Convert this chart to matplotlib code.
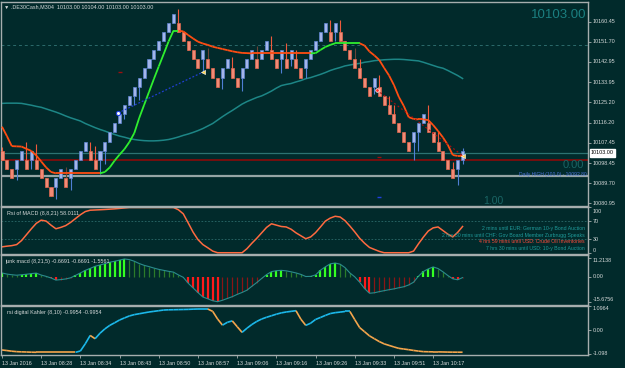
import matplotlib
matplotlib.use('Agg')
import matplotlib.pyplot as plt
from matplotlib.transforms import blended_transform_factory as btf
from matplotlib.collections import LineCollection
import numpy as np

plt.rcParams['font.family'] = ['Liberation Sans', 'DejaVu Sans']

# ---------------- data ----------------
opens = [10104, 10100, 10096, 10096, 10100, 10100, 10100, 10100, 10096, 10092,
         10088, 10088, 10092, 10092, 10092, 10096, 10100, 10104, 10104, 10100,
         10100, 10104, 10108, 10112, 10116, 10120, 10124, 10128, 10132, 10136,
         10140, 10144, 10148, 10152, 10156, 10160, 10160, 10156, 10152, 10148,
         10144, 10144, 10144, 10140, 10136, 10136, 10140, 10140, 10136, 10136,
         10140, 10144, 10144, 10144, 10148, 10148, 10144, 10144, 10144, 10144,
         10144, 10140, 10140, 10144, 10148, 10152, 10156, 10156, 10156, 10156,
         10152, 10148, 10144, 10140, 10136, 10132, 10132, 10132, 10128, 10124,
         10120, 10116, 10112, 10108, 10108, 10112, 10116, 10116, 10112, 10108,
         10104, 10100, 10096, 10096, 10100]
closes = [10100, 10096, 10092, 10100, 10104, 10096, 10104, 10096, 10092, 10088,
          10084, 10092, 10096, 10088, 10096, 10100, 10104, 10108, 10100, 10096,
          10104, 10108, 10112, 10116, 10120, 10124, 10128, 10132, 10136, 10140,
          10144, 10148, 10152, 10156, 10160, 10164, 10156, 10152, 10148, 10144,
          10140, 10148, 10140, 10136, 10132, 10140, 10144, 10136, 10132, 10140,
          10144, 10148, 10140, 10148, 10152, 10144, 10140, 10148, 10140, 10148,
          10140, 10136, 10144, 10148, 10152, 10156, 10160, 10152, 10160, 10152,
          10148, 10144, 10140, 10136, 10132, 10128, 10136, 10128, 10124, 10120,
          10116, 10112, 10108, 10104, 10112, 10116, 10120, 10112, 10108, 10104,
          10100, 10096, 10092, 10100, 10104]
highs = [10105.5, 10100, 10096, 10100, 10104, 10107.7, 10104, 10107, 10096, 10092,
         10088, 10092, 10096, 10097, 10096, 10100, 10104, 10108, 10108, 10106,
         10104, 10108, 10112, 10116, 10120, 10124, 10128, 10132, 10136, 10140,
         10144, 10148, 10152, 10156, 10160, 10164, 10166, 10156, 10152, 10148,
         10144, 10148, 10149, 10140, 10136, 10140, 10144, 10145, 10136, 10140,
         10144, 10148, 10150, 10148, 10152, 10154, 10144, 10148, 10151, 10148,
         10148, 10140, 10144, 10148, 10152, 10156, 10160, 10161, 10160, 10161,
         10152, 10148, 10149, 10144, 10136, 10132, 10136, 10137, 10128, 10128,
         10124, 10116, 10112, 10108, 10112, 10116, 10120, 10124, 10112, 10112,
         10104, 10100, 10099, 10100, 10105]
lows = [10100, 10096, 10092, 10091, 10100, 10096, 10096, 10096, 10092, 10088,
        10084, 10083, 10092, 10088, 10087, 10096, 10100, 10104, 10100, 10096,
        10094, 10098, 10108, 10112, 10116, 10118, 10124, 10124, 10126, 10136,
        10140, 10144, 10148, 10152, 10156, 10160, 10156, 10152, 10148, 10144,
        10140, 10139, 10140, 10136, 10132, 10131, 10140, 10136, 10132, 10130,
        10140, 10144, 10140, 10144, 10148, 10144, 10140, 10138, 10140, 10141,
        10140, 10136, 10136, 10144, 10148, 10152, 10156, 10152, 10152, 10152,
        10148, 10144, 10140, 10136, 10132, 10128, 10129, 10128, 10124, 10120,
        10116, 10112, 10108, 10104, 10100, 10104, 10116, 10112, 10108, 10104,
        10100, 10096, 10092, 10089, 10098]
dark_wicks = [13, 42, 52, 72]

trend = [10114.5, 10110.4, 10106.0, 10105.9, 10105.8, 10104.8, 10103.9, 10101.9, 10099.3, 10096.7,
         10094.7, 10094.1, 10094.1, 10094.1, 10094.1, 10094.1, 10094.1, 10094.1, 10094.1, 10094.1,
         10094.1, 10094.7, 10096.7, 10099.7, 10102.3, 10104.7, 10107.8, 10111.7, 10118.3, 10124.0,
         10129.7, 10135.4, 10140.9, 10146.3, 10151.8, 10156.5, 10156.5, 10156.2, 10154.6, 10153.1,
         10151.7, 10150.9, 10150.3, 10149.5, 10149.0, 10148.5, 10148.0, 10147.5, 10147.1, 10146.8,
         10146.7, 10146.6, 10146.6, 10146.6, 10146.6, 10146.6, 10146.6, 10146.6, 10146.6, 10146.6,
         10146.6, 10146.6, 10146.6, 10146.6, 10146.7, 10148.1, 10149.4, 10150.3, 10151.0, 10151.0,
         10151.0, 10151.0, 10151.0, 10151.0, 10150.0, 10147.4, 10145.7, 10143.7, 10140.2, 10136.9,
         10132.7, 10127.5, 10123.6, 10118.7, 10117.9, 10117.7, 10117.7, 10117.4, 10115.2, 10112.6,
         10109.8, 10106.5, 10102.1, 10101.7, 10101.7]

slow_ma = [10124.7, 10124.8, 10124.8, 10124.8, 10124.7, 10124.3, 10123.9, 10123.4, 10123.0, 10122.3,
           10121.6, 10120.9, 10120.1, 10119.2, 10118.4, 10117.7, 10117.0, 10115.9, 10115.0, 10114.1,
           10113.3, 10112.6, 10111.8, 10111.1, 10110.4, 10109.9, 10109.3, 10108.9, 10108.6, 10108.4,
           10108.3, 10108.3, 10108.4, 10108.6, 10108.9, 10109.4, 10110.0, 10110.7, 10111.3, 10112.0,
           10112.8, 10113.7, 10114.8, 10115.9, 10117.4, 10118.9, 10120.3, 10121.6, 10123.0, 10124.4,
           10125.5, 10126.4, 10127.3, 10128.0, 10129.0, 10130.1, 10131.4, 10132.5, 10133.0, 10133.4,
           10134.1, 10134.7, 10135.5, 10136.0, 10136.7, 10137.4, 10138.2, 10139.1, 10139.8, 10140.4,
           10141.1, 10141.5, 10141.9, 10142.2, 10142.7, 10143.0, 10143.4, 10143.6, 10143.8, 10143.9,
           10144.0, 10144.0, 10143.9, 10143.7, 10143.5, 10143.3, 10142.7, 10142.0, 10141.3, 10140.6,
           10140.1, 10139.1, 10138.0, 10136.9, 10135.6]

rsi_macd = [13, 14.5, 15.7, 18, 27, 40, 53, 65, 72, 70,
            61, 53, 56, 60, 67, 75.5, 84, 91, 94, 94.5,
            95, 95.6, 96.3, 97, 98, 99, 100, 100, 100, 100,
            100, 100, 100, 100, 100, 100, 95, 86, 66, 45.5,
            29, 18, 11, 3.6, 0, 0, 0, 0, 0, 0,
            9, 21, 32, 44, 56, 64, 61, 58, 57, 52,
            44, 37.5, 31, 35, 44.5, 57, 70, 76.6, 80.6, 79,
            71, 59, 46, 32, 21, 11.7, 7.3, 3, 0, 0,
            0, 0, 0, 0, 3.6, 19.7, 34.5, 48, 55, 57,
            49, 41, 35, 45, 58]

junk_macd = [2.2, 1.5, 1.1, 0.8, 1.1, 1.4, 1.8, 2.1, 0.9, 0.1,
             -0.9, -2.2, -1.9, -1.5, -0.8, 0.7, 2.2, 3.8, 5.0, 6.3,
             7.1, 7.9, 8.8, 9.4, 10.1, 10.8, 10.4, 9.4, 8.0, 6.9,
             6.1, 5.2, 4.4, 3.8, 3.2, 2.7, 1.0, -0.5, -4.1, -7.0,
             -9.9, -12.6, -13.7, -14.9, -15.5, -14.6, -13.5, -12.4, -11.0, -9.8,
             -8.4, -6.0, -3.7, -1.2, 1.2, 3.0, 3.6, 3.8, 3.5, 2.9,
             2.2, 1.3, 0.0, 0.1, 1.0, 3.9, 6.0, 7.8, 8.3, 7.6,
             5.5, 2.2, -0.2, -3.5, -7.4, -10.3, -10.0, -9.3, -8.7, -8.1,
             -7.6, -6.9, -6.3, -5.2, -3.5, 0.2, 3.1, 4.7, 5.9, 4.9,
             2.9, 0.6, -1.4, -2.0, -0.67]

kahler = [-0.894, -0.92, -0.95, -0.97, -0.98, -0.986, -0.994, -1.0, -1.0, -1.0,
          -1.0, -1.0, -1.0, -1.0, -1.0, -1.0, -0.94, -0.61, -0.23, -0.38,
          -0.13, 0.07, 0.23, 0.35, 0.475, 0.57, 0.66, 0.72, 0.76, 0.80,
          0.84, 0.87, 0.90, 0.93, 0.94, 0.945, 0.95, 0.955, 0.96, 0.97,
          0.977, 0.977, 0.977, 0.87, 0.52, 0.24, 0.37, 0.435, 0.17, -0.09,
          0.10, 0.27, 0.41, 0.52, 0.60, 0.67, 0.74, 0.80, 0.84, 0.87,
          0.90, 0.51, 0.23, 0.33, 0.50, 0.59, 0.685, 0.77, 0.81, 0.835,
          0.865, 0.865, 0.49, 0.127, -0.06, -0.25, -0.38, -0.51, -0.615, -0.685,
          -0.755, -0.82, -0.85, -0.88, -0.915, -0.945, -0.97, -0.975, -0.98, -0.98,
          -0.985, -0.99, -0.993, -0.995, -0.9954]

price_ticks = [10160.45, 10151.70, 10142.95, 10133.95, 10125.20, 10116.20,
               10107.45, 10098.45, 10089.70, 10080.95]
time_labels = ['13 Jan 2016', '13 Jan 08:28', '13 Jan 08:34', '13 Jan 08:43',
               '13 Jan 08:50', '13 Jan 08:57', '13 Jan 09:06', '13 Jan 09:16',
               '13 Jan 09:26', '13 Jan 09:33', '13 Jan 09:51', '13 Jan 10:17']
time_label_bars = [0, 8, 16, 24, 32, 40, 48, 56, 64, 72, 80, 88]

last_price = 10103.00
daily_high = 10092.80
red_level = 10099.8
dash_level = 10150.3
blue_line_x = [23.7, 41.0]
blue_line_y = [10120.5, 10138.4]
red_line_x = [76.5, 94.1]
red_line_y = [10130.6, 10101.7]

news = [("2 mins until EUR: German 10-y Bond Auction", '#1f9a9a'),
        ("2 hrs 30 mins until CHF: Gov Board Member Zurbrugg Speaks", '#1f9a9a'),
        ("4 hrs 59 mins until USD: Crude Oil Inventories", '#ff4a3a'),
        ("7 hrs 30 mins until USD: 10-y Bond Auction", '#1f9a9a')]

# ---------------- style ----------------
BG = '#012a2b'
SPINE = '#a6aeae'
TXT = '#d6dada'
W, H = 625, 368
L, R = 1.5, 588

fig = plt.figure(figsize=(6.25, 3.68), dpi=100, facecolor=BG)

def panel(top, bottom):
    ax = fig.add_axes([L / W, 1 - bottom / H, (R - L) / W, (bottom - top) / H])
    ax.set_facecolor(BG)
    for s in ax.spines.values():
        s.set_color(SPINE)
        s.set_linewidth(1.0)
    ax.set_xlim(-0.1, 119.6)
    ax.tick_params(axis='x', bottom=False, labelbottom=False)
    ax.yaxis.tick_right()
    ax.tick_params(axis='y', colors=SPINE, length=2.5, width=0.6, labelright=False)
    return ax

def rlabel(ax, y, s, color=TXT):
    ax.text(1.008, y, s, transform=btf(ax.transAxes, ax.transData), fontsize=3.9,
            color=color, va='center', ha='left', clip_on=False)

x = np.arange(len(opens))

# ---------------- main panel ----------------
ax = panel(2, 205.5)
ax.set_ylim(10080.02, 10169.07)

ax.axhline(dash_level, color='#2c6b6b', lw=0.7, ls=(0, (3, 3)))
ax.axhline(last_price, color='#2d7272', lw=0.9)
ax.axhline(red_level, color='#8a0a0a', lw=1.2)
ax.axhline(daily_high, color='#95a5a5', lw=1.6)

ax.plot(x, slow_ma, color='#1d8686', lw=1.1)

for i in x:
    up = closes[i] > opens[i]
    wick = '#4f7fd4' if up else '#ee5a3c'
    if i in dark_wicks:
        wick = '#6a4438'
    ax.vlines(i, lows[i], highs[i], color=wick, lw=0.8, zorder=3)
    fill = '#a3b5ea' if up else '#f28a76'
    edge = '#5d83cf' if up else '#e0674e'
    ax.bar(i, closes[i] - opens[i], bottom=opens[i], width=0.62, color=fill,
           edgecolor=edge, linewidth=0.5, zorder=4)

segs, cols = [], []
state = -1
for i in range(1, len(trend)):
    d = trend[i] - trend[i - 1]
    if d > 0:
        state = 1
    elif d < 0:
        state = -1
    segs.append([(i - 1, trend[i - 1]), (i, trend[i])])
    cols.append('#2fef2f' if state > 0 else '#ff4d12')
ax.add_collection(LineCollection(segs, colors=cols, linewidths=1.3, zorder=5))

ax.plot(blue_line_x, blue_line_y, color='#1f3fd0', lw=0.9, ls=(0, (1.5, 1.5)), zorder=5)
ax.plot(red_line_x, red_line_y, color='#a01010', lw=0.9, ls=(0, (1.5, 2)), zorder=5)
ax.plot(blue_line_x[0], blue_line_y[0], marker='o', ms=3, mfc='white', mec='#2040e0', mew=0.8, zorder=6)
ax.plot(blue_line_x[1], blue_line_y[1], marker='<', ms=3, mfc='#ffd24a', mec='white', mew=0.4, zorder=6)
ax.plot(red_line_x[0], red_line_y[0], marker='o', ms=2.6, mfc='#ff3030', mec='white', mew=0.5, zorder=6)
ax.plot(red_line_x[1], red_line_y[1], marker='<', ms=3, mfc='#ffd24a', mec='white', mew=0.4, zorder=6)
ax.hlines([10138.6, 10101.2], [23.7, 76.5], [24.5, 77.3], color='#9a1010', lw=1.0, zorder=5)
ax.hlines([10083.9], [76.5], [77.3], color='#2040e0', lw=1.0, zorder=5)

ax.set_yticks(price_ticks)
for p in price_ticks:
    rlabel(ax, p, f'{p:.2f}')
ax.text(1.005, last_price, f'{last_price:.2f}', transform=btf(ax.transAxes, ax.transData),
        fontsize=3.9, color='black', va='center', ha='left', clip_on=False,
        bbox=dict(boxstyle='square,pad=0.25', fc='white', ec='white'), zorder=10)

ax.text(0.998, 0.935, f'{last_price:.2f}', transform=ax.transAxes, fontsize=9.5,
        color='#1b7f80', ha='right', va='center')
ax.text(0.994, 0.197, '0.00', transform=ax.transAxes, fontsize=8,
        color='#1a6565', ha='right', va='center')
ax.text(0.855, 0.02, '1.00', transform=ax.transAxes, fontsize=7.5,
        color='#1a6565', ha='right', va='center')
ax.text(0.998, daily_high + 1.0, f'Daily HIGH (100.0) - {daily_high:.2f}', fontsize=3.6,
        color='#4a72d8', ha='right', va='center', transform=btf(ax.transAxes, ax.transData))
fig.text(4 / W, 1 - 6.5 / H, '\u25bc .DE30Cash,M304  10103.00 10104.00 10103.00 10103.00',
         fontsize=3.9, color=TXT, va='center', ha='left')

# ---------------- RSI of MACD ----------------
a1 = panel(206.5, 254)
a1.set_ylim(-2.8, 102.2)
a1.axhline(70, color='#2c6b6b', lw=0.6, ls=(0, (2, 2)))
a1.axhline(30, color='#2c6b6b', lw=0.6, ls=(0, (2, 2)))
a1.plot(x, rsi_macd, color='#ff6a40', lw=1.1)
a1.set_yticks([100, 70, 30, 0])
for v, lab, off in [(100, '100', -9), (70, '70', 0), (30, '30', 0), (0, '0', 6)]:
    rlabel(a1, v + off, lab)
a1.text(0.01, 0.86, 'Rsi of MACD (8,8,21) 58.0111', transform=a1.transAxes,
        fontsize=3.9, color=TXT, va='center', ha='left')
for k, (s, c) in enumerate(news):
    a1.text(0.995, 0.53 - k * 0.135, s, transform=a1.transAxes, fontsize=3.7,
            color=c, ha='right', va='center')

# ---------------- junk macd ----------------
a2 = panel(255, 305)
a2.set_ylim(-17.52, 13.24)
for i, v in enumerate(junk_macd):
    p = junk_macd[i - 1] if i else v
    if v >= 0:
        c, w = ('#33ff22', 1.6) if v >= p else ('#2a7a2a', 0.9)
    else:
        c, w = ('#ff1a1a', 1.6) if v < p else ('#8a1515', 0.9)
    a2.vlines(i, 0, v, color=c, lw=w)
a2.plot(x, junk_macd, color='#2a8c8c', lw=0.8)
a2.set_yticks([11.2138, 0, -15.6756])
for v, lab, off in [(11.2138, '11.2138', -1.2), (0, '0.00', 0), (-15.6756, '-15.6756', 1.3)]:
    rlabel(a2, v + off, lab)
a2.text(0.006, 0.88, 'junk macd (8,21,5) -0.6691 -0.6691 -1.5561', transform=a2.transAxes,
        fontsize=3.9, color=TXT, va='center', ha='left')

# ---------------- rsi digital Kahler ----------------
a3 = panel(306, 355)
a3.set_ylim(-1.123, 1.114)
segs, cols = [], []
state = -1
for i in range(1, len(kahler)):
    d = kahler[i] - kahler[i - 1]
    if d > 0:
        state = 1
    elif d < 0:
        state = -1
    segs.append([(i - 1, kahler[i - 1]), (i, kahler[i])])
    cols.append('#1cb8ea' if state > 0 else '#f4a54c')
a3.add_collection(LineCollection(segs, colors=cols, linewidths=1.2))
a3.set_yticks([1.0964, 0, -1.098])
for v, lab, off in [(1.0964, '1.0964', -0.08), (0, '0.00', 0), (-1.098, '-1.098', 0.06)]:
    rlabel(a3, v + off, lab)
a3.text(0.01, 0.87, 'rsi digital Kahler (8,10) -0.9954 -0.9954', transform=a3.transAxes,
        fontsize=3.9, color=TXT, va='center', ha='left')

a3.set_xticks(time_label_bars)
a3.set_xticklabels(time_labels)
a3.tick_params(axis='x', bottom=True, labelbottom=True, length=2.5, width=0.6,
               colors=SPINE, labelcolor=TXT, labelsize=3.9, pad=1.5)
for t in a3.get_xticklabels():
    t.set_ha('left')

fig.savefig('out.png', dpi=100, facecolor=BG)
